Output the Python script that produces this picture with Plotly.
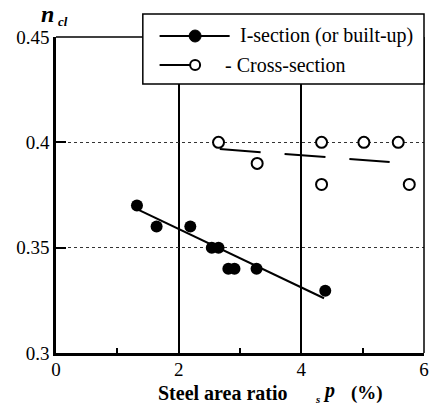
import plotly.graph_objects as go

# ---- data ----
i_x = [1.32, 1.64, 2.19, 2.54, 2.65, 2.81, 2.91, 3.27, 4.39]
i_y = [0.370, 0.360, 0.360, 0.350, 0.350, 0.340, 0.340, 0.340, 0.3295]
i_fit_x = [1.27, 4.37]
i_fit_y = [0.369, 0.326]

c_x = [2.65, 3.28, 4.33, 4.33, 5.02, 5.58, 5.76]
c_y = [0.400, 0.390, 0.400, 0.380, 0.400, 0.400, 0.380]
c_fit_x = [2.67, 5.44]
c_fit_y = [0.3968, 0.3907]

x_tickvals = [0, 2, 4, 6]
x_ticktext = ["0", "2", "4", "6"]
y_tickvals = [0.30, 0.35, 0.40, 0.45]
y_ticktext = ["0.3", "0.35", "0.4", "0.45"]

legend_labels = ["I-section (or built-up)", "- Cross-section"]

# ---- geometry helpers (pixel -> paper) ----
W, H = 432, 408
L, R, T, B = 56, 3, 37, 55
PW, PH = W - L - R, H - T - B

def px(x):
    return (x - L) / PW

def py(y):
    return (H - B - y) / PH

SERIF = "Liberation Serif"

fig = go.Figure()

fig.add_trace(go.Scatter(x=i_fit_x, y=i_fit_y, mode="lines",
                         line=dict(color="black", width=2), showlegend=False,
                         hoverinfo="skip"))
fig.add_trace(go.Scatter(x=c_fit_x, y=c_fit_y, mode="lines",
                         line=dict(color="black", width=2, dash="41px,24px"),
                         showlegend=False, hoverinfo="skip"))
fig.add_trace(go.Scatter(x=i_x, y=i_y, mode="markers", name=legend_labels[0],
                         marker=dict(symbol="circle", size=12, color="black"),
                         showlegend=False))
fig.add_trace(go.Scatter(x=c_x, y=c_y, mode="markers", name=legend_labels[1],
                         marker=dict(symbol="circle", size=11, color="white",
                                     line=dict(color="black", width=2)),
                         showlegend=False))

shapes = []
# frame: top and right (thin)
shapes.append(dict(type="line", xref="paper", yref="paper", x0=0, x1=1, y0=1, y1=1,
                   line=dict(color="black", width=1.3)))
shapes.append(dict(type="line", xref="paper", yref="paper", x0=1, x1=1, y0=0, y1=1,
                   line=dict(color="black", width=1.5)))
# legend box
shapes.append(dict(type="rect", xref="paper", yref="paper",
                   x0=px(144), x1=px(429), y0=py(84), y1=py(14),
                   line=dict(color="black", width=1.5), fillcolor="white"))
# legend entry lines
shapes.append(dict(type="line", xref="paper", yref="paper",
                   x0=px(161), x1=px(232), y0=py(36), y1=py(36),
                   line=dict(color="black", width=2)))
shapes.append(dict(type="line", xref="paper", yref="paper",
                   x0=px(161), x1=px(197), y0=py(65), y1=py(65),
                   line=dict(color="black", width=2)))
# legend markers
shapes.append(dict(type="circle", xref="paper", yref="paper",
                   xsizemode="pixel", ysizemode="pixel",
                   xanchor=px(197), yanchor=py(36), x0=-6, x1=6, y0=-6, y1=6,
                   fillcolor="black", line=dict(color="black", width=1)))
shapes.append(dict(type="circle", xref="paper", yref="paper",
                   xsizemode="pixel", ysizemode="pixel",
                   xanchor=px(197), yanchor=py(65), x0=-5, x1=5, y0=-5, y1=5,
                   fillcolor="white", line=dict(color="black", width=2)))

annotations = [
    dict(text=legend_labels[0], x=px(240), y=py(36), xanchor="left", yanchor="middle"),
    dict(text=legend_labels[1], x=px(225), y=py(65), xanchor="left", yanchor="middle"),
]
for a in annotations:
    a.update(xref="paper", yref="paper", showarrow=False,
             font=dict(family=SERIF, size=20, color="black"))

annotations += [
    dict(text="<b>Steel area ratio</b>", x=px(157), y=py(393), xanchor="left",
         yanchor="middle", font=dict(family=SERIF, size=20, color="black")),
    dict(text="<b><i>s</i></b>", x=px(321), y=py(399), xanchor="center",
         yanchor="middle", font=dict(family=SERIF, size=11, color="black")),
    dict(text="<b><i>p</i></b>", x=px(333), y=py(390), xanchor="center",
         yanchor="middle", font=dict(family=SERIF, size=20, color="black")),
    dict(text="<b>(%)</b>", x=px(353), y=py(393), xanchor="left",
         yanchor="middle", font=dict(family=SERIF, size=19, color="black")),
    dict(text="<b><i>n</i></b>", x=px(47), y=py(14), xanchor="center",
         yanchor="middle", font=dict(family=SERIF, size=24, color="black")),
    dict(text="<b><i>cl</i></b>", x=px(63), y=py(22), xanchor="center",
         yanchor="middle", font=dict(family=SERIF, size=13, color="black")),
]
for a in annotations[2:]:
    a.update(xref="paper", yref="paper", showarrow=False)

fig.update_layout(
    width=W, height=H,
    margin=dict(l=L, r=R, t=T, b=B, pad=0),
    paper_bgcolor="white", plot_bgcolor="white",
    showlegend=False,
    shapes=shapes, annotations=annotations,
    font=dict(family=SERIF, color="black"),
    xaxis=dict(range=[0, 6], tickvals=x_tickvals, ticktext=x_ticktext,
               showline=True, linewidth=2.5, linecolor="black", mirror=False,
               ticks="inside", ticklen=6, tickwidth=2, tickcolor="black",
               showgrid=True, gridcolor="black", gridwidth=1.5, zeroline=False,
               ticklabeloverflow="allow", ticklabelstandoff=-3,
               minor=dict(ticks="inside", ticklen=5, tickwidth=1.5, tickcolor="black",
                          dtick=1, showgrid=False),
               tickfont=dict(family=SERIF, size=19, color="black")),
    yaxis=dict(range=[0.3, 0.45], tickvals=y_tickvals, ticktext=y_ticktext,
               showline=True, linewidth=2.5, linecolor="black", mirror=False,
               ticks="inside", ticklen=10, tickwidth=2, tickcolor="black",
               showgrid=True, gridcolor="#333333", gridwidth=1, griddash="dot",
               zeroline=False,
               tickfont=dict(family=SERIF, size=19, color="black")),
)

fig.write_html("out.html", config={"displayModeBar": False},
               post_script="document.body.style.margin='0';document.body.style.padding='0';")
